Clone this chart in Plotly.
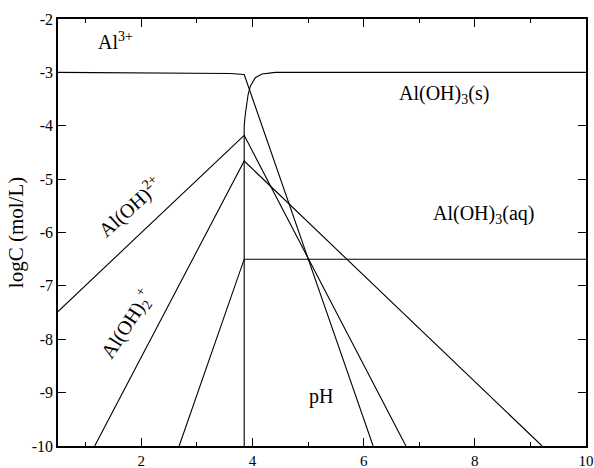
import plotly.graph_objects as go

# Data (pH vs logC)
al3_x = [0.5, 3.0, 3.6, 3.85, 6.17]
al3_y = [-3.0, -3.005, -3.02, -3.04, -10.0]

aloh_x = [0.5, 3.85, 6.76]
aloh_y = [-7.48, -4.18, -10.0]

aloh2_x = [1.16, 3.85, 9.21]
aloh2_y = [-10.0, -4.66, -10.0]

aloh3aq_x = [2.68, 3.85, 10.0]
aloh3aq_y = [-10.0, -6.5, -6.5]

solid_x = [3.85, 3.85, 3.87, 3.92, 3.96, 4.05, 4.17, 4.41, 10.0]
solid_y = [-10.0, -4.0, -3.79, -3.42, -3.26, -3.10, -3.03, -3.0, -3.0]

x_ticks = [2, 4, 6, 8, 10]
x_ticktext = ["2", "4", "6", "8", "10"]
y_ticks = [-2, -3, -4, -5, -6, -7, -8, -9, -10]
y_ticktext = ["-2", "-3", "-4", "-5", "-6", "-7", "-8", "-9", "-10"]

FONT = "Liberation Serif"

fig = go.Figure()
for xs, ys in [(al3_x, al3_y), (aloh_x, aloh_y), (aloh2_x, aloh2_y),
               (aloh3aq_x, aloh3aq_y), (solid_x, solid_y)]:
    fig.add_trace(go.Scatter(x=xs, y=ys, mode="lines",
                             line=dict(color="black", width=1.1),
                             showlegend=False, hoverinfo="skip"))

labels = [
    ("Al<sup>3+</sup>", 1.54, -2.41, 0),
    ("Al(OH)<sub>3</sub>(s)", 7.45, -3.42, 0),
    ("Al(OH)<sub>3</sub>(aq)", 8.15, -5.66, 0),
    ("Al(OH)<sup>2+</sup>", 1.79, -5.51, -42),
    ("Al(OH)<sub>2</sub><sup>+</sup>", 1.75, -7.72, -57),
    ("pH", 5.23, -9.07, 0),
]
for txt, x, y, ang in labels:
    fig.add_annotation(x=x, y=y, text=txt, showarrow=False, textangle=ang,
                       xanchor="center", yanchor="middle",
                       font=dict(family=FONT, size=20, color="black"))

fig.update_layout(
    width=594, height=468,
    margin=dict(l=58, r=8, t=19, b=22),
    paper_bgcolor="white", plot_bgcolor="white",
    font=dict(family=FONT, size=15, color="black"),
    showlegend=False,
)
fig.update_xaxes(range=[0.5, 10], tickvals=x_ticks, ticktext=x_ticktext,
                 ticks="inside", ticklen=8, automargin=False,
                 tickwidth=1, tickcolor="black", showgrid=False, zeroline=False,
                 showline=True, linecolor="black", linewidth=1.5, mirror="ticks",
                 minor=dict(tickvals=[1, 3, 5, 7, 9], ticks="inside", ticklen=4,
                            tickcolor="black", tickwidth=1),
                 tickfont=dict(family=FONT, size=15))
fig.update_yaxes(range=[-10, -2], tickvals=y_ticks, ticktext=y_ticktext,
                 ticks="inside", ticklen=8, automargin=False,
                 tickwidth=1, tickcolor="black", showgrid=False, zeroline=False,
                 showline=True, linecolor="black", linewidth=1.5, mirror="ticks",
                 title=dict(text="logC (mol/L)", font=dict(family=FONT, size=21), standoff=2),
                 tickfont=dict(family=FONT, size=16))

fig.write_html("out.html", config={"displayModeBar": False},
               post_script="document.body.style.margin='0';document.body.style.overflow='hidden';")
